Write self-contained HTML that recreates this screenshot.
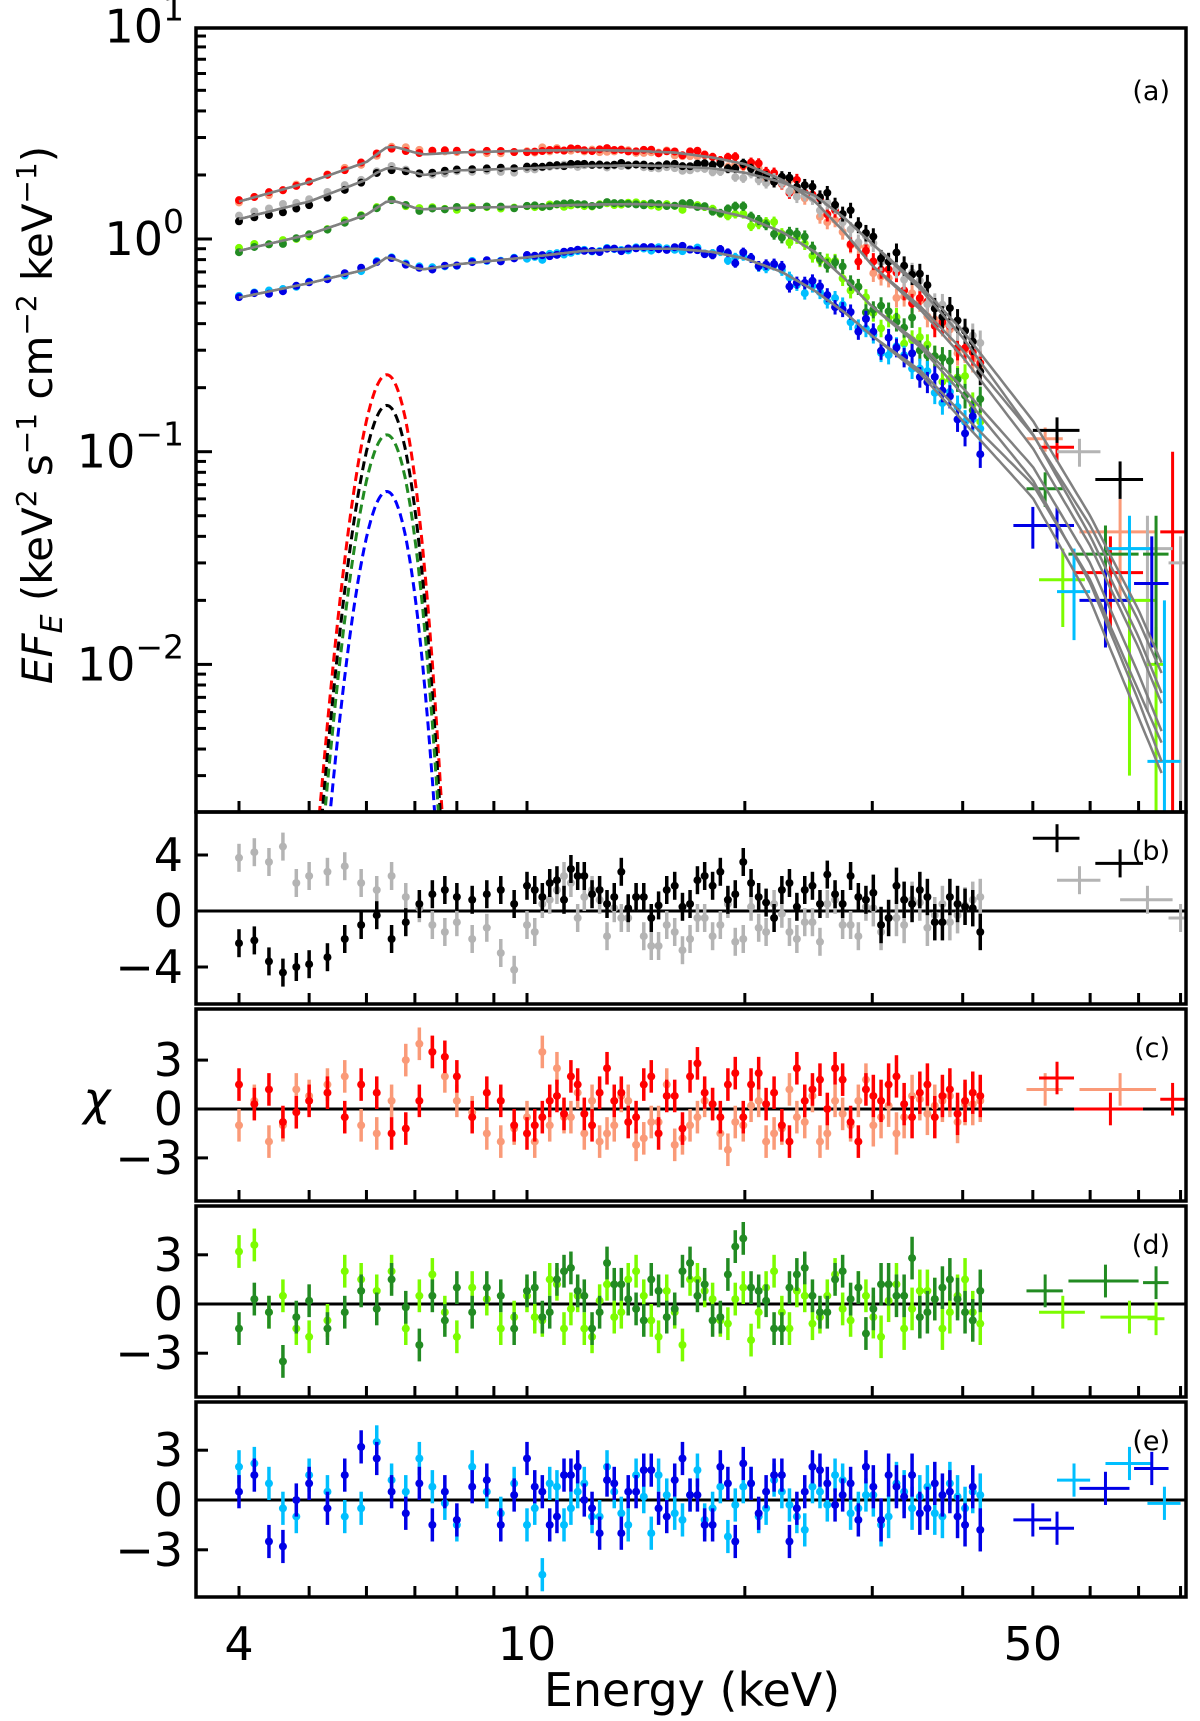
<!DOCTYPE html>
<html><head><meta charset="utf-8"><style>
body{margin:0;background:#fff}
svg text{font-family:"DejaVu Sans","Liberation Sans",sans-serif}
</style></head><body>
<svg id="chart" width="1200" height="1716" viewBox="0 0 1200 1716" xmlns="http://www.w3.org/2000/svg"></svg>
<script>
// ---- data ----
const eGrid=[4.0,4.2,4.4,4.6,4.8,5.0,5.3,5.6,5.9,6.2,6.5,6.8,7.1,7.4,7.7,8.0,8.4,8.8,9.2,9.6,10.0,10.5,11,11.5,12,12.6,13.2,13.8,14.5,15.2,16,16.8,17.6,18.5,19.4,20.4,21.4,22.5,23.6,24.8,26,27.3,28.7,30.1,31.6,33.2,34.9,36.6,38.4,40.3,42.3];
const eGrid2=[10.25,10.75,11.25,11.75,12.3,12.9,13.5,14.15,14.85,15.6,16.4,17.2,18.05,18.95,19.9,20.9,21.95,23.05,24.2,25.4,26.65,28,29.4,30.85,32.4,34.05,35.75,37.5,39.35,41.3];
const modelE=[4,5,6,6.2,6.4,6.6,7.0,7.2,8,10,12,14,16,18,20,22.5,25,27.5,30,35,40,50,60,70,76];
const modelRed=[1.5,1.85,2.3,2.5,2.7,2.7,2.55,2.5,2.55,2.6,2.62,2.6,2.55,2.42,2.25,1.9,1.5,1.07,0.75,0.48,0.3,0.12,0.045,0.016,0.0085];
const modelBlack=[1.24,1.5,1.9,2.05,2.15,2.15,2.05,2.0,2.1,2.15,2.2,2.22,2.2,2.15,2.05,1.85,1.6,1.25,0.95,0.6,0.37,0.14,0.05,0.018,0.0095];
const modelGreen=[0.88,1.05,1.3,1.4,1.5,1.5,1.4,1.38,1.4,1.42,1.45,1.46,1.44,1.38,1.27,1.08,0.87,0.65,0.48,0.32,0.2,0.085,0.03,0.009,0.0045];
const modelBlue=[0.53,0.62,0.72,0.76,0.82,0.8,0.73,0.72,0.76,0.82,0.88,0.9,0.9,0.87,0.81,0.7,0.57,0.45,0.35,0.24,0.15,0.07,0.025,0.0075,0.004];
const linePeaks=[0.23,0.165,0.12,0.065];
const lineColors=['#ff0000','#000000','#228b22','#0000ff'];
const resBlack=[-2.3,-2.1,-3.6,-4.4,-4.0,-3.8,-3.3,-2.0,-1.0,-0.3,-2.0,-0.8,0.5,1.2,1.5,1.0,0.8,1.2,1.5,0.5,1.8,1.0,2.2,3.0,2.5,1.5,1.0,0.2,1.0,0.4,1.8,0.5,2.5,2.8,1.2,2.0,0.6,1.5,0.3,1.8,2.6,0.5,1.0,1.3,-0.5,0.8,1.5,-0.8,1.0,0.3,-1.5];
const resGrey=[3.8,4.2,3.5,4.6,2.0,2.5,2.8,3.2,2.0,1.5,2.5,1.0,0.2,-1.0,-1.5,-0.8,-2.0,-1.2,-3.0,-4.2,-1.0,0.5,1.5,2.0,1.0,0.8,0.2,-0.5,-1.8,-2.5,-1.5,-2.0,-0.5,-1.0,-2.2,0.3,-1.5,-0.2,-2.0,-0.8,0.5,-1.0,-1.8,0.2,-0.5,-1.0,0.6,-0.3,-0.8,0.4,1.0];
const resRed=[1.5,0.3,1.2,-0.8,-0.2,0.5,1.0,-0.5,1.5,1.0,-1.5,-1.2,0.5,3.5,3.2,2.0,-0.5,1.0,0.5,-1.0,-1.5,-0.5,0.8,2.0,-0.3,1.0,0.5,-0.8,1.5,-1.5,0.8,2.0,1.0,-0.5,2.2,1.5,0.3,-1.0,2.5,1.2,0.0,1.8,-2.0,0.8,1.5,0.3,1.0,-0.5,1.2,0.5,0.8];
const resSalmon=[-1.0,0.5,-2.0,-1.0,1.2,0.8,1.5,2.0,-1.0,-1.5,0.5,3.0,4.0,3.5,2.0,0.5,-0.2,-1.5,-2.0,-1.2,-0.5,3.5,2.5,-0.5,-1.5,-2.0,-1.0,0.5,-1.8,-0.8,-2.2,-1.0,0.5,-1.5,-0.8,0.2,-2.0,-1.2,-0.5,0.8,-1.5,-0.3,0.5,-1.0,0.2,-0.5,0.6,0.2,0.8,0.3,0.5];
const resDGreen=[-1.5,0.3,-0.5,-3.5,-0.8,0.2,-1.5,-0.5,0.8,-0.3,1.5,-0.2,-2.5,0.5,-1.0,1.0,-0.5,1.0,0.5,-1.5,0.8,-0.8,1.5,2.2,0.5,-0.5,1.2,0.3,-1.0,0.8,-0.3,2.5,1.2,-0.8,3.5,1.0,0.2,-1.5,1.8,0.5,-0.5,2.0,1.0,-0.3,1.2,0.5,-0.8,0.3,1.5,-0.5,0.8];
const resLime=[3.2,3.6,-0.5,0.5,-1.5,-2.0,-1.0,2.0,1.5,0.8,2.0,-1.5,0.5,1.8,-0.5,-2.0,1.0,0.3,-1.5,-0.8,0.5,-1.0,1.2,-0.3,-1.5,0.2,-0.8,1.5,0.5,-2.0,-0.5,1.5,0.8,-1.0,0.3,-2.2,1.0,-0.5,0.8,-1.2,0.5,-0.3,1.0,-0.8,0.2,-1.5,0.8,0.3,-0.5,1.5,-1.2];
const resBlue=[0.5,1.5,-2.5,-2.8,0.0,1.0,-0.5,1.5,3.2,2.5,0.5,-0.8,1.0,-1.5,0.5,-1.2,0.8,1.2,-1.5,0.3,2.5,0.5,-1.0,1.5,0.0,-2.0,1.0,0.5,1.8,-0.5,1.2,0.3,-1.5,2.0,-2.5,1.0,0.5,1.5,-0.5,2.0,1.0,0.3,-1.2,0.8,1.5,0.2,-0.8,1.0,0.5,-1.5,-1.8];
const resSky=[2.0,2.2,1.0,-0.5,-1.0,1.5,0.5,-1.0,-0.5,3.5,1.2,0.5,2.5,0.8,-0.2,-1.5,2.0,0.5,-0.8,1.0,-1.5,-4.5,0.8,-0.5,1.0,-1.0,0.5,-1.5,0.2,1.5,-0.8,0.3,-1.2,0.8,-0.3,1.0,-0.5,0.5,-1.0,0.8,-0.3,1.2,-0.5,0.3,-1.0,0.5,0.2,-0.8,1.0,-0.5,0.3];
const resBlack2=[1.5,2.0,0.8,2.5,1.2,0.5,2.8,1.0,-0.5,1.5,0.3,2.2,1.8,0.8,3.5,1.0,-0.5,2.0,1.5,0.5,1.2,2.5,0.8,-1.0,1.8,0.5,1.0,-0.8,0.5,0.2];
const resGrey2=[-1.5,0.8,2.5,-0.5,1.5,-1.8,-0.5,1.0,-2.5,-1.0,-2.8,-0.5,-1.8,0.5,-2.0,-1.2,0.5,-1.5,-0.8,-2.2,0.8,-1.0,0.3,-1.5,-0.5,0.8,-1.2,0.5,-0.3,0.8];
const resRed2=[-1.0,0.5,-0.3,1.5,-1.0,2.5,1.0,-0.5,2.0,0.8,-1.2,2.8,0.3,1.5,-0.5,2.2,1.0,-2.0,0.5,1.8,2.5,-0.8,1.2,0.5,2.0,-0.5,1.5,0.8,-0.3,1.0];
const resSalmon2=[-2.0,-1.0,-0.5,1.0,0.5,-1.5,0.8,-2.2,-0.8,1.5,-1.8,-0.5,0.3,-2.5,-1.0,0.5,-1.5,1.2,-0.8,-2.0,0.5,-1.0,1.8,-0.5,-1.5,0.8,-0.3,0.5,-0.8,0.3];
const resDGreen2=[1.0,-0.5,2.0,0.8,-1.5,2.5,1.2,-0.3,1.5,-0.8,2.0,0.5,-1.0,1.8,4.0,0.8,-1.5,1.0,2.2,-0.5,1.5,0.3,-1.8,1.2,0.5,2.8,-0.5,1.0,0.3,-1.0];
const resLime2=[-0.8,1.5,-1.5,0.5,-2.0,1.2,-0.5,2.0,-1.0,0.8,-2.5,1.5,0.3,-1.2,1.0,-0.5,2.0,-1.5,0.5,-0.8,1.8,-1.0,0.5,-2.0,1.2,-0.3,0.8,-1.5,0.5,-0.5];
const resBlue2=[0.8,-1.5,1.5,2.0,-0.5,1.2,-2.0,0.5,1.8,-1.0,2.5,0.3,-1.5,1.0,2.2,-0.8,1.5,-2.5,0.5,1.8,-0.3,1.0,2.0,-1.2,0.8,1.5,-0.5,0.3,-1.0,0.8];
const resSky2=[-0.5,1.0,-1.5,0.5,-1.0,2.0,-0.8,1.5,-2.0,0.3,-1.2,1.8,-0.5,-2.2,0.8,-1.0,1.2,-0.3,-1.8,0.5,1.5,-0.8,0.3,-1.5,1.0,-0.5,0.8,-1.0,0.2,0.5];
// high-energy wide bins: [E, halfWidth, flux, fluxLo, fluxHi, resid]
const hiBlack=[[54,4,0.126,0.11,0.145,5.2],[66,5,0.074,0.06,0.09,3.4]];
const hiGrey=[[58,4,0.1,0.085,0.115,2.2],[72,6,0.035,0.006,0.05,0.8],[80,3,0.03,0.002,0.04,-0.5]];
const hiRed=[[54,3,0.105,0.09,0.12,1.9],[64,7,0.027,0.015,0.04,0.0],[78,3,0.042,0.002,0.1,0.6]];
const hiSalmon=[[52,3,0.115,0.1,0.13,1.2],[66,8,0.042,0.02,0.06,1.2]];
const hiDGreen=[[52,3,0.067,0.055,0.08,0.8],[63,7,0.033,0.022,0.045,1.4],[74,3,0.033,0.01,0.05,1.3]];
const hiLime=[[55,4,0.025,0.015,0.035,-0.5],[68,6,0.02,0.003,0.03,-0.8],[74,2,0.01,0.002,0.015,-0.9]];
const hiBlue=[[50,3,0.045,0.035,0.055,-1.2],[54,3,0.045,0.035,0.055,-1.7],[63,5,0.02,0.012,0.028,0.7],[73,4,0.024,0.012,0.04,1.9]];
const hiSky=[[57,3,0.022,0.013,0.035,1.2],[68,5,0.035,0.02,0.05,2.2],[76,4,0.0035,0.002,0.02,-0.2]];

// ---- scales ----
const svg=document.getElementById('chart');
const NS='http://www.w3.org/2000/svg';
const L=196,R=1186;
function X(e){return 239+723.7*Math.log10(e/4);}
const aTop=28,aBot=812;
function YA(v){return 239-212.7*Math.log10(v);}
const allE=eGrid.concat(eGrid2);
const S={
 black:[resBlack.concat(resBlack2),'#000000',hiBlack],
 grey:[resGrey.concat(resGrey2),'#b4b4b4',hiGrey],
 red:[resRed.concat(resRed2),'#ff0000',hiRed],
 salmon:[resSalmon.concat(resSalmon2),'#fa9a78',hiSalmon],
 dgreen:[resDGreen.concat(resDGreen2),'#228b22',hiDGreen],
 lime:[resLime.concat(resLime2),'#7cfc00',hiLime],
 blue:[resBlue.concat(resBlue2),'#0000e6',hiBlue],
 sky:[resSky.concat(resSky2),'#00bfff',hiSky]
};
const panels=[
 {name:'b',top:812,bot:1004,zero:911,k:14,ticks:[4,0,-4],lab:'(b)',series:[S.grey,S.black]},
 {name:'c',top:1009,bot:1201,zero:1109,k:16.3,ticks:[3,0,-3],lab:'(c)',series:[S.salmon,S.red]},
 {name:'d',top:1206,bot:1397,zero:1304,k:16.4,ticks:[3,0,-3],lab:'(d)',series:[S.lime,S.dgreen]},
 {name:'e',top:1402,bot:1597,zero:1500,k:16.6,ticks:[3,0,-3],lab:'(e)',series:[S.sky,S.blue]}
];
function el(tag,attrs,parent){const e=document.createElementNS(NS,tag);for(const k in attrs)e.setAttribute(k,attrs[k]);(parent||svg).appendChild(e);return e;}
function interp(xs,ys,e){
 if(e<=xs[0])return ys[0];
 for(let i=1;i<xs.length;i++){if(e<=xs[i]){const t=(Math.log(e)-Math.log(xs[i-1]))/(Math.log(xs[i])-Math.log(xs[i-1]));return Math.exp(Math.log(ys[i-1])+t*(Math.log(ys[i])-Math.log(ys[i-1])));}}
 return ys[ys.length-1];
}
const defs=el('defs',{});
const cpA=el('clipPath',{id:'clipA'},defs);el('rect',{x:L,y:aTop,width:R-L,height:aBot-aTop},cpA);
panels.forEach(p=>{const c=el('clipPath',{id:'clip'+p.name},defs);el('rect',{x:L,y:p.top,width:R-L,height:p.bot-p.top},c);});

// ---- panel a ----
const gA=el('g',{'clip-path':'url(#clipA)'});


const fineE=[];for(let e=5.0;e<=8.2;e+=0.02)fineE.push(e);
linePeaks.forEach((pk,i)=>{
 const pts=fineE.map(e=>{const v=pk*Math.exp(-Math.pow(e-6.4,2)/(2*0.4*0.4));return X(e).toFixed(1)+','+YA(Math.max(v,1e-4)).toFixed(1);});
 const pl=el('polyline',{points:pts.join(' '),fill:'none',stroke:lineColors[i],'stroke-width':3,'stroke-dasharray':'9,5'},gA);
 
 
});
const groups=[
 {model:modelRed,ser:[S.salmon,S.red]},
 {model:modelBlack,ser:[S.grey,S.black]},
 {model:modelGreen,ser:[S.lime,S.dgreen]},
 {model:modelBlue,ser:[S.sky,S.blue]}
];
groups.forEach((g,gi)=>{
 g.ser.forEach(([res,col,hi],si)=>{
  allE.forEach((e,i)=>{
   const m=interp(modelE,g.model,e);
   const frac=0.01+0.004*Math.max(0,e-15);
   const v=m*(1+res[i]*frac);
   const x=X(e),y=YA(v);
   const yl=YA(v*(1-frac)),yh=YA(v*(1+frac));
   const ln=el('line',{x1:x,x2:x,y1:yh-2,y2:yl+2,stroke:col,'stroke-width':3},gA);
   
   
   const c=el('circle',{cx:x,cy:y,r:4,fill:col},gA);
   
   
  });
  hi.forEach(h=>{
   const x=X(h[0]),y=YA(h[2]);
   const a=el('line',{x1:X(h[0]-h[1]),x2:X(h[0]+h[1]),y1:y,y2:y,stroke:col,'stroke-width':3},gA);
   
   
   const b=el('line',{x1:x,x2:x,y1:YA(h[4]),y2:YA(h[3]),stroke:col,'stroke-width':3},gA);
   
   
  });
 });
});
const fineM=[];for(let e=4;e<=76;e*=1.01)fineM.push(e);
groups.forEach((g,gi)=>{
 [1,0.93].forEach((s,k)=>{
  const pts=fineM.map(e=>{let v=interp(modelE,g.model,e);if(e>30)v*=Math.pow(s,(e-30)/10);return X(e).toFixed(1)+','+YA(v).toFixed(1);});
  const pl=el('polyline',{points:pts.join(' '),fill:'none',stroke:'#808080','stroke-width':2.5},gA);
  
  
 });
});
function frame(top,bot,name){
 const r=el('rect',{x:L,y:top,width:R-L,height:bot-top,fill:'none',stroke:'#000','stroke-width':3.5});
 
 
}
frame(aTop,aBot,'panel-a-frame');
function xTicks(top,bot){
 [4,5,6,7,8,9,10,20,30,40,50,60,70,80].forEach(e=>{
  const x=X(e);
  const t=el('line',{x1:x,x2:x,y1:bot,y2:bot-11,stroke:'#000','stroke-width':3});
  
  
 });
}
xTicks(aTop,aBot);
for(let d=-3;d<=0;d++){
 for(let m=1;m<=9;m++){
  const v=m*Math.pow(10,d);const y=YA(v);
  if(y<aTop-1||y>aBot+1)continue;
  const t=el('line',{x1:L,x2:L+(m==1?16:10),y1:y,y2:y,stroke:'#000','stroke-width':3});
  
  
 }
}
const yLabs=[[1,'1'],[0,'0'],[-1,'−1'],[-2,'−2']];
yLabs.forEach(([d,s])=>{
 const t=el('text',{x:184,y:YA(Math.pow(10,d))+16,'font-size':46,'text-anchor':'end'});
 
 
 t.textContent='10';
 const sp=el('tspan',{dy:-22,'font-size':33},t);sp.textContent=s;
});
const la=el('text',{x:1170,y:100,'font-size':27,'text-anchor':'end'});


la.textContent='(a)';

// ---- residual panels ----
panels.forEach(p=>{
 const g=el('g',{'clip-path':'url(#clip'+p.name+')'});
 
 
 const Y=v=>p.zero-p.k*v;
 const z=el('line',{x1:L,x2:R,y1:Y(0),y2:Y(0),stroke:'#000','stroke-width':3},g);
 
 
 p.series.forEach(([res,col,hi])=>{
  allE.forEach((e,i)=>{
   const x=X(e),y=Y(res[i]);
   const er=e>30?1.3:1.0;
   const ln=el('line',{x1:x,x2:x,y1:Y(res[i]+er),y2:Y(res[i]-er),stroke:col,'stroke-width':3.5},g);
   
   
   const c=el('circle',{cx:x,cy:y,r:4,fill:col},g);
   
   
  });
  hi.forEach(h=>{
   const x=X(h[0]),y=Y(h[5]);
   const a=el('line',{x1:X(h[0]-h[1]),x2:X(h[0]+h[1]),y1:y,y2:y,stroke:col,'stroke-width':3},g);
   
   
   const b=el('line',{x1:x,x2:x,y1:Y(h[5]+1),y2:Y(h[5]-1),stroke:col,'stroke-width':3},g);
   
   
  });
 });
 frame(p.top,p.bot,'panel-'+p.name+'-frame');
 xTicks(p.top,p.bot);
 p.ticks.forEach(v=>{
  const t=el('line',{x1:L,x2:L+12,y1:Y(v),y2:Y(v),stroke:'#000','stroke-width':3});
  
  
  const tx=el('text',{x:183,y:Y(v)+16,'font-size':46,'text-anchor':'end'});
  
  
  tx.textContent=v<0?'−'+(-v):String(v);
 });
 const lb=el('text',{x:1170,y:p.top+48,'font-size':27,'text-anchor':'end'});
 
 
 lb.textContent=p.lab;
});
[[4,'4'],[10,'10'],[50,'50']].forEach(([e,s])=>{
 const t=el('text',{x:X(e),y:1660,'font-size':46,'text-anchor':'middle'});
 
 
 t.textContent=s;
});
const xl=el('text',{x:692,y:1706,'font-size':46,'text-anchor':'middle'});


xl.textContent='Energy (keV)';
const yl=el('text',{x:0,y:0,'font-size':42,'text-anchor':'middle',transform:'translate(52,415) rotate(-90)'});


yl.innerHTML='<tspan font-style="italic">EF</tspan><tspan font-style="italic" font-size="30" dy="10">E</tspan><tspan dy="-10"> (keV</tspan><tspan font-size="28" dy="-16">2</tspan><tspan dy="16"> s</tspan><tspan font-size="28" dy="-16">−1</tspan><tspan dy="16"> cm</tspan><tspan font-size="28" dy="-16">−2</tspan><tspan dy="16"> keV</tspan><tspan font-size="28" dy="-16">−1</tspan><tspan dy="16">)</tspan>';
const chi=el('text',{x:97,y:1115,'font-size':46,'text-anchor':'middle','font-style':'italic'});


chi.textContent='χ';
</script>
</body></html>
